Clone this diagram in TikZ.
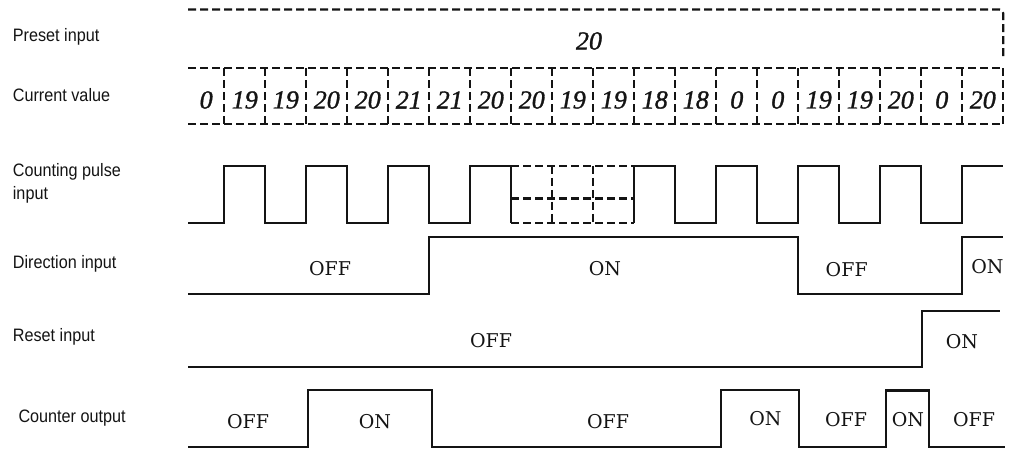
\documentclass[tikz,border=0pt]{standalone}
\usepackage{fontspec}
\setmainfont{Liberation Sans}
\newfontfamily\lblfont[FakeStretch=0.9]{Liberation Sans}
\newfontfamily\sigfont{DejaVu Serif}
\newfontfamily\numfont[ItalicFeatures={FakeBold=1.2}]{Liberation Serif}
\definecolor{ink}{HTML}{141414}
\begin{document}
\begin{tikzpicture}[x=1pt,y=-1pt,
  lbl/.style={anchor=base west,inner sep=0pt,font=\lblfont\fontsize{18}{22}\selectfont,text=ink},
  sig/.style={anchor=center,inner sep=0pt,font=\sigfont\fontsize{19}{23}\selectfont,text=ink},
  num/.style={anchor=center,inner sep=0pt,font=\numfont\itshape\fontsize{26}{30}\selectfont,text=ink},
  wave/.style={line width=2.2pt,line join=miter,draw=ink},
  dwave/.style={line width=2.2pt,draw=ink,dash pattern=on 8pt off 4pt}]
\useasboundingbox[fill=white] (0,0) rectangle (1017,449);

% left labels
\node[lbl] (lpreset) at (12.7,42) {Preset input};
\node[lbl] (lcur) at (12.7,102) {Current value};
\node[lbl] (lcnt1) at (12.7,177) {Counting pulse};
\node[lbl] (lcnt2) at (12.7,200) {input};
\node[lbl] (ldir) at (12.7,268) {Direction input};
\node[lbl] (lres) at (12.7,341.5) {Reset input};
\node[lbl] (lout) at (18.3,422.5) {Counter output};

% preset input
\draw[dwave,rounded corners=4pt] (188,9.5) -- (1003.3,9.5) -- (1003.3,60);
\node[num] (pv) at (589,41) {20};

% current value
\draw[dwave] (188,68.3) -- (1003.3,68.3);
\draw[dwave] (188,124.3) -- (1003.3,124.3);
\foreach \i in {1,...,20}{
  \draw[dwave] ({224.3+41*(\i-1)},68.3) -- ({224.3+41*(\i-1)},124.3);
}
\foreach \v [count=\k] in {0,19,19,20,20,21,21,20,20,19,19,18,18,0,0,19,19,20,0,20}{
  \ifnum\k=1
    \node[num] (c\k) at (206.2,100) {\v};
  \else
    \node[num] (c\k) at ({224.3+41*(\k-2)+20.5},100) {\v};
  \fi
}

% counting pulse input
\draw[wave] (188,223.3) -- (224.3,223.3) -- (224.3,166) -- (265.3,166) -- (265.3,223.3)
  -- (306.3,223.3) -- (306.3,166) -- (347.3,166) -- (347.3,223.3) -- (388.3,223.3)
  -- (388.3,166) -- (429.3,166) -- (429.3,223.3) -- (470.3,223.3) -- (470.3,166)
  -- (511.3,166) -- (511.3,223.3);
\draw[wave] (634.3,223.3) -- (634.3,166) -- (675.3,166) -- (675.3,223.3) -- (716.3,223.3)
  -- (716.3,166) -- (757.3,166) -- (757.3,223.3) -- (798.3,223.3) -- (798.3,166)
  -- (839.3,166) -- (839.3,223.3) -- (880.3,223.3) -- (880.3,166) -- (921.3,166)
  -- (921.3,223.3) -- (962.3,223.3) -- (962.3,166) -- (1003.3,166);
\draw[dwave] (511.3,166) -- (634.3,166);
\draw[dwave] (511.3,198.5) -- (634.3,198.5);
\draw[dwave] (511.3,223.3) -- (634.3,223.3);
\draw[dwave] (552.3,166) -- (552.3,223.3);
\draw[dwave] (593.3,166) -- (593.3,223.3);

% direction input
\draw[wave] (188,294) -- (429.3,294) -- (429.3,236.7) -- (798.3,236.7) -- (798.3,294)
  -- (962.3,294) -- (962.3,236.7) -- (1003.3,236.7);
\node[sig] (d1) at (330,268.5) {OFF};
\node[sig] (d2) at (605,268.5) {ON};
\node[sig] (d3) at (846.7,270) {OFF};
\node[sig] (d4) at (987.5,266.5) {ON};

% reset input
\draw[wave] (188,367.3) -- (922,367.3) -- (922,310.7) -- (1000,310.7);
\node[sig] (r1) at (491,341) {OFF};
\node[sig] (r2) at (962,342) {ON};

% counter output
\draw[wave] (188,446.7) -- (308.3,446.7) -- (308.3,390) -- (431.7,390) -- (431.7,446.7)
  -- (720.7,446.7) -- (720.7,390) -- (799.3,390) -- (799.3,446.7) -- (886,446.7)
  -- (886,390.5) -- (929,390.5) -- (929,446.7) -- (1005,446.7);
\node[sig] (o1) at (248,421.5) {OFF};
\node[sig] (o2) at (375,421.5) {ON};
\node[sig] (o3) at (608,421.5) {OFF};
\node[sig] (o4) at (765.5,418.5) {ON};
\node[sig] (o5) at (846,420) {OFF};
\node[sig] (o6) at (908,420) {ON};
\node[sig] (o7) at (974,420) {OFF};
\end{tikzpicture}
\end{document}
